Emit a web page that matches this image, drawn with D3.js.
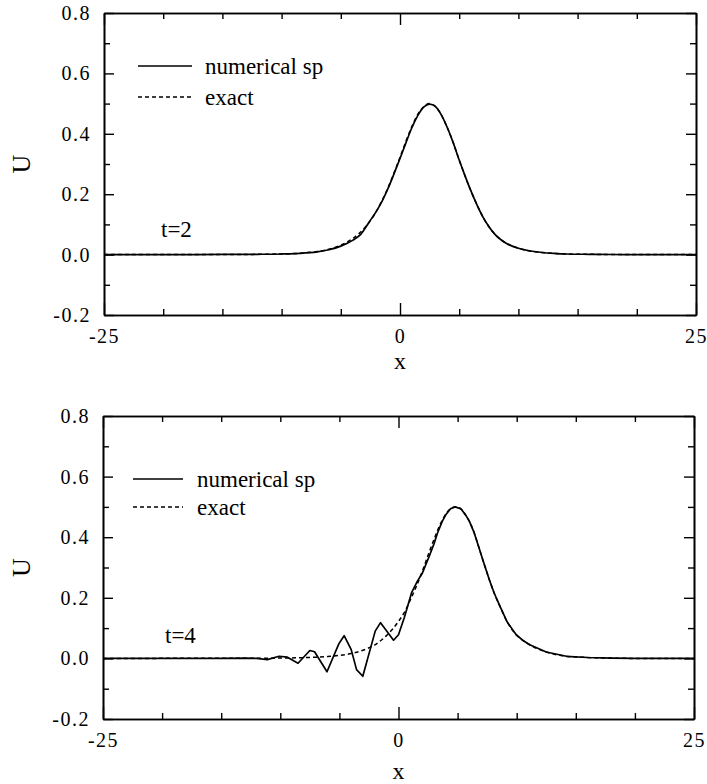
<!DOCTYPE html>
<html>
<head>
<meta charset="utf-8">
<script src="https://cdn.jsdelivr.net/npm/d3@7"></script>
<style>
  html, body { margin: 0; padding: 0; background: #fff; }
  svg { display: block; }
  text { font-family: "Liberation Serif", "Times New Roman", serif; fill: #000; }
</style>
</head>
<body>
<svg id="chart" width="707" height="784"></svg>
<script>
// Axis ranges and tick values
const xDomain = [-25, 25];
const yDomain = [-0.2, 0.8];
const xMajorTicks = [-25, 0, 25];
const xMinorTicks = [-20, -15, -10, -5, 5, 10, 15, 20];
const yMajorTicks = [-0.2, 0.0, 0.2, 0.4, 0.6, 0.8];
const yMinorTicks = [-0.1, 0.1, 0.3, 0.5, 0.7];

// Legend entries and panel captions
const seriesNames = ["numerical sp", "exact"];
const timeLabels = ["t=2", "t=4"];
const xTitle = "x";
const yTitle = "U";

// t = 2 : numerical (spectral) solution
const xNumT2 = [-25,-20,-15,-12,-10,-8.5,-7,-6,-5,-4,-3.3,-2.6,-2,-1.5,-1,-0.5,0,0.5,1,1.5,2,2.5,3,3.5,4,4.5,5,5.5,6,6.5,7,7.5,8,8.5,9,10,11,12,13,14,16,18,20,25];
const uNumT2 = [0,0,0.0005,0.001,0.002,0.004,0.009,0.016,0.028,0.047,0.068,0.108,0.143,0.178,0.220,0.268,0.318,0.370,0.420,0.460,0.488,0.498,0.490,0.462,0.420,0.370,0.313,0.260,0.210,0.165,0.125,0.093,0.068,0.050,0.037,0.021,0.012,0.007,0.004,0.002,0.001,0.0003,0,0];

// t = 2 : exact solution
const xExT2 = [-25,-15,-10,-8,-7,-6,-5,-4,-3,-2,-1.5,-1,-0.5,0,0.5,1,1.5,2,2.5,3,3.5,4,4.5,5,5.5,6,6.5,7,7.5,8,8.5,9,10,11,12,13,14,16,18,20,25];
const uExT2 = [0,0.0002,0.002,0.006,0.010,0.018,0.031,0.053,0.088,0.143,0.180,0.222,0.271,0.322,0.375,0.424,0.464,0.490,0.500,0.490,0.462,0.420,0.370,0.313,0.260,0.210,0.165,0.125,0.093,0.068,0.050,0.037,0.021,0.012,0.007,0.004,0.002,0.001,0.0003,0,0];

// t = 4 : numerical (spectral) solution
const xNumT4 = [-25,-20,-15,-13,-12,-11.1,-10.1,-9.4,-8.5,-7.5,-7.1,-6.05,-5.05,-4.6,-4.0,-3.55,-3.02,-1.97,-1.52,-0.42,0,0.5,1.1,1.6,2.0,2.6,3.0,3.3,3.7,4.0,4.4,4.8,5.3,5.7,6.0,6.4,6.85,7.3,7.7,8.1,8.55,9.2,9.96,10.5,11.1,12.5,14.2,16,18,20,25];
const uNumT4 = [0,0,0,0.001,0,-0.004,0.007,0.004,-0.016,0.026,0.022,-0.044,0.048,0.075,0.029,-0.037,-0.059,0.090,0.118,0.060,0.078,0.136,0.216,0.255,0.280,0.337,0.378,0.414,0.452,0.474,0.494,0.500,0.493,0.472,0.452,0.415,0.360,0.305,0.258,0.215,0.175,0.120,0.078,0.060,0.045,0.021,0.007,0.003,0.001,0,0];

// t = 4 : exact solution
const xExT4 = [-25,-15,-12,-10,-8,-6,-5,-4,-3,-2,-1,0,0.5,1,1.5,2,2.5,3,3.5,4,4.4,4.8,5.3,5.7,6.0,6.4,6.85,7.3,7.7,8.1,8.55,9.2,9.96,10.5,11.1,12.5,14.2,16,18,20,25];
const uExT4 = [0,0.0003,0.0006,0.0012,0.0025,0.006,0.010,0.016,0.027,0.045,0.076,0.122,0.152,0.193,0.237,0.286,0.340,0.392,0.440,0.476,0.494,0.500,0.493,0.472,0.452,0.415,0.360,0.305,0.258,0.215,0.175,0.120,0.078,0.060,0.045,0.021,0.007,0.003,0.001,0,0];

const zip = (xs, ys) => xs.map((x, i) => ({ x, u: ys[i] }));

const panels = [
  { box: { l: 104, r: 696, t: 13, b: 315 }, label: timeLabels[0],
    num: zip(xNumT2, uNumT2), ex: zip(xExT2, uExT2), numCurve: d3.curveMonotoneX,
    legend: { x1: 138, x2: 192, tx: 205, y1: 66, y2: 97 },
    tlab: { x: 161, y: 237 }, xTitleY: 369 },
  { box: { l: 103, r: 694, t: 416, b: 719 }, label: timeLabels[1],
    num: zip(xNumT4, uNumT4), ex: zip(xExT4, uExT4), numCurve: d3.curveLinear,
    legend: { x1: 133, x2: 183, tx: 197, y1: 479, y2: 507 },
    tlab: { x: 165, y: 643 }, xTitleY: 779 }
];

const svg = d3.select("#chart");
const fmtY = d => d.toFixed(1);
const fmtX = d => String(d);
const DASH = "4,3";

function styleAxis(g) {
  g.selectAll(".domain").attr("stroke", "#000").attr("stroke-width", 1.6);
  g.selectAll(".tick line").attr("stroke", "#000").attr("stroke-width", 1.4);
  g.selectAll(".tick text")
    .style("font-size", "20px")
    .style("letter-spacing", "1.5px")
    .attr("fill", "#000");
}

panels.forEach(p => {
  const b = p.box;
  const x = d3.scaleLinear().domain(xDomain).range([b.l, b.r]);
  const y = d3.scaleLinear().domain(yDomain).range([b.b, b.t]);
  const g = svg.append("g");

  // minor ticks (inward, unlabelled) on all four sides
  g.append("g").attr("transform", `translate(0,${b.b})`)
    .call(d3.axisBottom(x).tickValues(xMinorTicks).tickSize(-6).tickSizeOuter(0).tickFormat(""))
    .call(styleAxis);
  g.append("g").attr("transform", `translate(0,${b.t})`)
    .call(d3.axisTop(x).tickValues(xMinorTicks).tickSize(-6).tickSizeOuter(0).tickFormat(""))
    .call(styleAxis);
  g.append("g").attr("transform", `translate(${b.l},0)`)
    .call(d3.axisLeft(y).tickValues(yMinorTicks).tickSize(-6).tickSizeOuter(0).tickFormat(""))
    .call(styleAxis);
  g.append("g").attr("transform", `translate(${b.r},0)`)
    .call(d3.axisRight(y).tickValues(yMinorTicks).tickSize(-6).tickSizeOuter(0).tickFormat(""))
    .call(styleAxis);

  // major ticks with labels on bottom and left, bare on top and right
  g.append("g").attr("transform", `translate(0,${b.b})`)
    .call(d3.axisBottom(x).tickValues(xMajorTicks).tickSize(-12).tickSizeOuter(0).tickPadding(14).tickFormat(fmtX))
    .call(styleAxis);
  g.append("g").attr("transform", `translate(0,${b.t})`)
    .call(d3.axisTop(x).tickValues(xMajorTicks).tickSize(-12).tickSizeOuter(0).tickFormat(""))
    .call(styleAxis);
  g.append("g").attr("transform", `translate(${b.l},0)`)
    .call(d3.axisLeft(y).tickValues(yMajorTicks).tickSize(-10).tickSizeOuter(0).tickPadding(13).tickFormat(fmtY))
    .call(styleAxis);
  g.append("g").attr("transform", `translate(${b.r},0)`)
    .call(d3.axisRight(y).tickValues(yMajorTicks).tickSize(-10).tickSizeOuter(0).tickFormat(""))
    .call(styleAxis);

  // axis titles
  g.append("text").attr("x", (b.l + b.r) / 2).attr("y", p.xTitleY)
    .attr("text-anchor", "middle").style("font-size", "24px").text(xTitle);
  g.append("text")
    .attr("transform", `translate(30,${(b.t + b.b) / 2}) rotate(-90)`)
    .attr("text-anchor", "middle").style("font-size", "26px").text(yTitle);

  // curves: exact (dashed) underneath, numerical (solid) on top
  const lineEx = d3.line().x(d => x(d.x)).y(d => y(d.u)).curve(d3.curveMonotoneX);
  const lineNum = d3.line().x(d => x(d.x)).y(d => y(d.u)).curve(p.numCurve);
  g.append("path").datum(p.ex).attr("d", lineEx)
    .attr("fill", "none").attr("stroke", "#000").attr("stroke-width", 1.5)
    .attr("stroke-dasharray", DASH);
  g.append("path").datum(p.num).attr("d", lineNum)
    .attr("fill", "none").attr("stroke", "#000").attr("stroke-width", 1.7)
    .attr("stroke-linejoin", "round");

  // legend
  const L = p.legend;
  g.append("line").attr("x1", L.x1).attr("x2", L.x2).attr("y1", L.y1).attr("y2", L.y1)
    .attr("stroke", "#000").attr("stroke-width", 1.6);
  g.append("line").attr("x1", L.x1).attr("x2", L.x2).attr("y1", L.y2).attr("y2", L.y2)
    .attr("stroke", "#000").attr("stroke-width", 1.4).attr("stroke-dasharray", DASH);
  g.append("text").attr("x", L.tx).attr("y", L.y1 + 8).style("font-size", "23px").text(seriesNames[0]);
  g.append("text").attr("x", L.tx).attr("y", L.y2 + 8).style("font-size", "23px").text(seriesNames[1]);

  // time caption
  g.append("text").attr("x", p.tlab.x).attr("y", p.tlab.y).style("font-size", "23px").text(p.label);
});
</script>
</body>
</html>
